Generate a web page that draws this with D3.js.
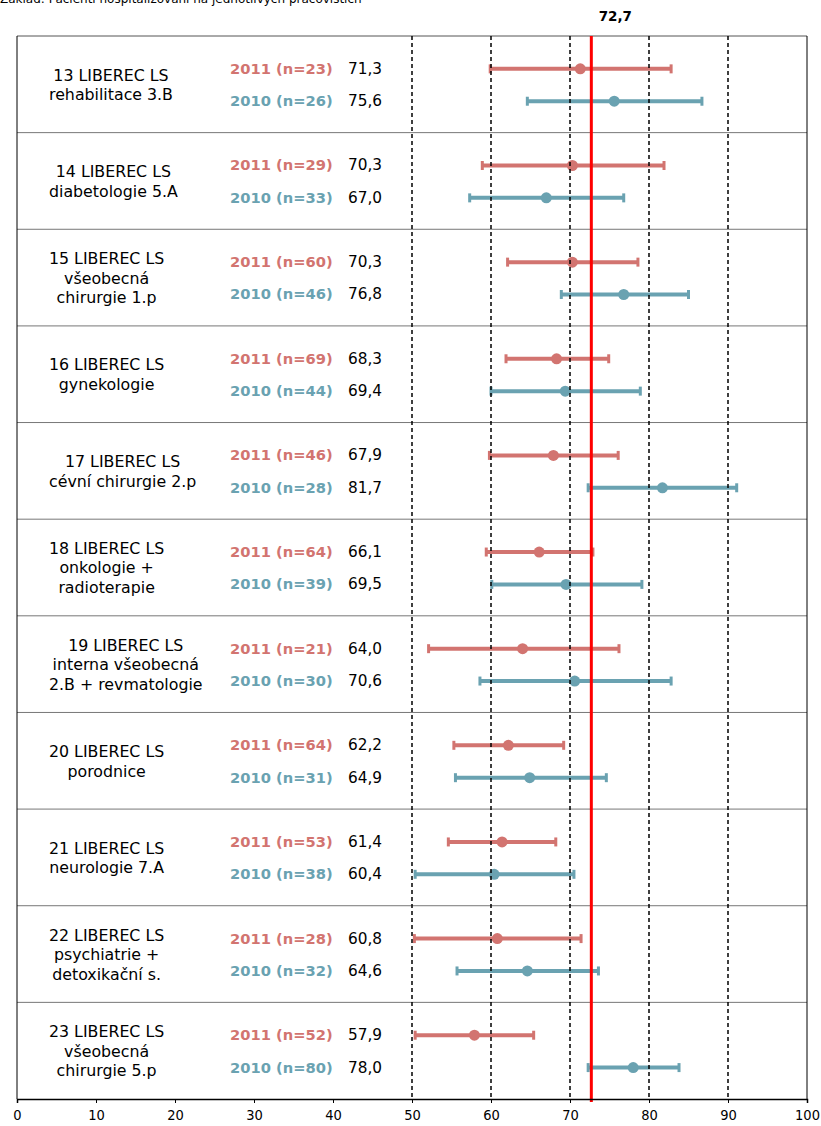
<!DOCTYPE html>
<html>
<head>
<meta charset="utf-8">
<script src="https://cdn.jsdelivr.net/npm/d3@7"></script>
<style>
  html, body { margin: 0; padding: 0; background: #fff; }
  svg { display: block; }
</style>
</head>
<body>
<svg id="chart" width="821" height="1126"></svg>
<script>
const subtitle = "Základ: Pacienti hospitalizovaní na jednotlivých pracovištích";
const categories = [
  ["13 LIBEREC LS", "rehabilitace 3.B"],
  ["14 LIBEREC LS", "diabetologie 5.A"],
  ["15 LIBEREC LS", "všeobecná", "chirurgie 1.p"],
  ["16 LIBEREC LS", "gynekologie"],
  ["17 LIBEREC LS", "cévní chirurgie 2.p"],
  ["18 LIBEREC LS", "onkologie +", "radioterapie"],
  ["19 LIBEREC LS", "interna všeobecná", "2.B + revmatologie"],
  ["20 LIBEREC LS", "porodnice"],
  ["21 LIBEREC LS", "neurologie 7.A"],
  ["22 LIBEREC LS", "psychiatrie +", "detoxikační s."],
  ["23 LIBEREC LS", "všeobecná", "chirurgie 5.p"]
];
const years = ["2011", "2010"];
const n2011 = [23, 29, 60, 69, 46, 64, 21, 64, 53, 28, 52];
const n2010 = [26, 33, 46, 44, 28, 39, 30, 31, 38, 32, 80];
const mean2011 = [71.3, 70.3, 70.3, 68.3, 67.9, 66.1, 64.0, 62.2, 61.4, 60.8, 57.9];
const mean2010 = [75.6, 67.0, 76.8, 69.4, 81.7, 69.5, 70.6, 64.9, 60.4, 64.6, 78.0];
const low2011  = [59.9, 58.9, 62.1, 61.9, 59.8, 59.4, 52.1, 55.3, 54.6, 50.3, 50.4];
const high2011 = [82.8, 81.9, 78.6, 74.9, 76.1, 72.9, 76.2, 69.2, 68.2, 71.4, 65.4];
const low2010  = [64.6, 57.3, 68.9, 60.0, 72.3, 60.1, 58.6, 55.5, 50.4, 55.7, 72.3];
const high2010 = [86.7, 76.8, 85.0, 78.9, 91.1, 79.1, 82.8, 74.6, 70.5, 73.6, 83.8];
const overall = 72.7;
const gridValues = [50, 60, 70, 80, 90];
const tickValues = [0, 10, 20, 30, 40, 50, 60, 70, 80, 90, 100];

(function () {
const colors = { "2011": "#d27470", "2010": "#6aa2b1" };
const FONT = "'DejaVu Sans', Verdana, sans-serif";
const fmt = v => d3.format(".1f")(v).replace(".", ",");

const svg = d3.select("#chart");
const mLeft = 17, mRight = 807, mTop = 36, mBottom = 1099;

const x = d3.scaleLinear().domain([0, 100]).range([mLeft, mRight]);
const y = d3.scaleBand().domain(d3.range(categories.length)).range([mTop, mBottom]).padding(0);
const yr = d3.scalePoint().domain(years).range([y.bandwidth() * 0.34, y.bandwidth() * 0.675]);

const rows = categories.map((c, i) => ({
  i, lines: c,
  series: [
    { year: "2011", n: n2011[i], mean: mean2011[i], lo: low2011[i], hi: high2011[i] },
    { year: "2010", n: n2010[i], mean: mean2010[i], lo: low2010[i], hi: high2010[i] }
  ]
}));

// subtitle (cut off at top, as in the source)
svg.append("text").attr("x", 0).attr("y", 3)
  .attr("font-family", FONT).attr("font-size", 12).attr("fill", "#000")
  .text(subtitle);

// overall value label
svg.append("text").attr("x", x(overall) + 24).attr("y", 21)
  .attr("text-anchor", "middle")
  .attr("font-family", FONT).attr("font-size", 13.5).attr("font-weight", "bold")
  .text(fmt(overall));

// row separators
svg.append("g").selectAll("line").data(d3.range(1, categories.length)).join("line")
  .attr("x1", mLeft).attr("x2", mRight)
  .attr("y1", d => y(d)).attr("y2", d => y(d))
  .attr("stroke", "#777").attr("stroke-width", 1);

// frame
svg.append("line").attr("x1", mLeft).attr("x2", mRight).attr("y1", mTop).attr("y2", mTop)
  .attr("stroke", "#555").attr("stroke-width", 1);
svg.append("line").attr("x1", mLeft).attr("x2", mLeft).attr("y1", mTop).attr("y2", mBottom)
  .attr("stroke", "#000").attr("stroke-width", 1);
svg.append("line").attr("x1", mRight).attr("x2", mRight).attr("y1", mTop).attr("y2", mBottom)
  .attr("stroke", "#000").attr("stroke-width", 1);

// category labels
const rowG = svg.append("g").selectAll("g").data(rows).join("g")
  .attr("transform", d => `translate(0,${y(d.i)})`);

rowG.each(function(d) {
  const g = d3.select(this);
  const n = d.lines.length;
  const cy = y.bandwidth() / 2 + 6;
  const texts = g.append("g").selectAll("text").data(d.lines).join("text")
    .attr("y", (s, k) => cy + (k - (n - 1) / 2) * 19.5)
    .attr("text-anchor", "middle")
    .attr("font-family", FONT).attr("font-size", 15.8).attr("fill", "#000")
    .text(s => s);
  let maxW = 0;
  texts.each(function() { maxW = Math.max(maxW, this.getComputedTextLength()); });
  texts.attr("x", 49 + maxW / 2);
});

// year labels and values
rowG.selectAll("text.yl").data(d => d.series).join("text")
  .attr("class", "yl")
  .attr("x", 230).attr("y", s => yr(s.year) + 5)
  .attr("font-family", FONT).attr("font-size", 14.7).attr("font-weight", "bold")
  .attr("fill", s => colors[s.year])
  .text(s => `${s.year} (n=${s.n})`);

rowG.selectAll("text.val").data(d => d.series).join("text")
  .attr("class", "val")
  .attr("x", 348).attr("y", s => yr(s.year) + 5)
  .attr("font-family", FONT).attr("font-size", 15.3).attr("fill", "#000")
  .text(s => fmt(s.mean));

// error bars
const eb = rowG.selectAll("g.eb").data(d => d.series).join("g").attr("class", "eb");
eb.append("line")
  .attr("x1", s => x(s.lo)).attr("x2", s => x(s.hi))
  .attr("y1", s => yr(s.year)).attr("y2", s => yr(s.year))
  .attr("stroke", s => colors[s.year]).attr("stroke-width", 4);
eb.append("line")
  .attr("x1", s => x(s.lo)).attr("x2", s => x(s.lo))
  .attr("y1", s => yr(s.year) - 4.5).attr("y2", s => yr(s.year) + 4.5)
  .attr("stroke", s => colors[s.year]).attr("stroke-width", 3);
eb.append("line")
  .attr("x1", s => x(s.hi)).attr("x2", s => x(s.hi))
  .attr("y1", s => yr(s.year) - 4.5).attr("y2", s => yr(s.year) + 4.5)
  .attr("stroke", s => colors[s.year]).attr("stroke-width", 3);
eb.append("circle")
  .attr("cx", s => x(s.mean)).attr("cy", s => yr(s.year)).attr("r", 5.5)
  .attr("fill", s => colors[s.year]);

// dashed reference gridlines
svg.append("g").selectAll("line").data(gridValues).join("line")
  .attr("x1", d => x(d)).attr("x2", d => x(d))
  .attr("y1", mTop).attr("y2", mBottom)
  .attr("stroke", "#000").attr("stroke-width", 1.5)
  .attr("stroke-dasharray", "4,3");

// overall red line
svg.append("line")
  .attr("x1", x(overall)).attr("x2", x(overall))
  .attr("y1", mTop).attr("y2", mBottom + 3)
  .attr("stroke", "#ff0000").attr("stroke-width", 3);

// bottom axis
const axis = d3.axisBottom(x).tickValues(tickValues).tickSize(4).tickPadding(7)
  .tickFormat(d3.format("d"));
const ax = svg.append("g").attr("transform", `translate(0,${mBottom})`).call(axis);
ax.select(".domain").attr("stroke", "#000").attr("stroke-width", 1.5);
ax.selectAll(".tick line").attr("stroke", "#000");
ax.selectAll(".tick text").attr("font-family", "'DejaVu Sans Condensed', 'DejaVu Sans', sans-serif")
  .attr("font-size", 14.5).attr("fill", "#000");
})();
</script>
</body>
</html>
